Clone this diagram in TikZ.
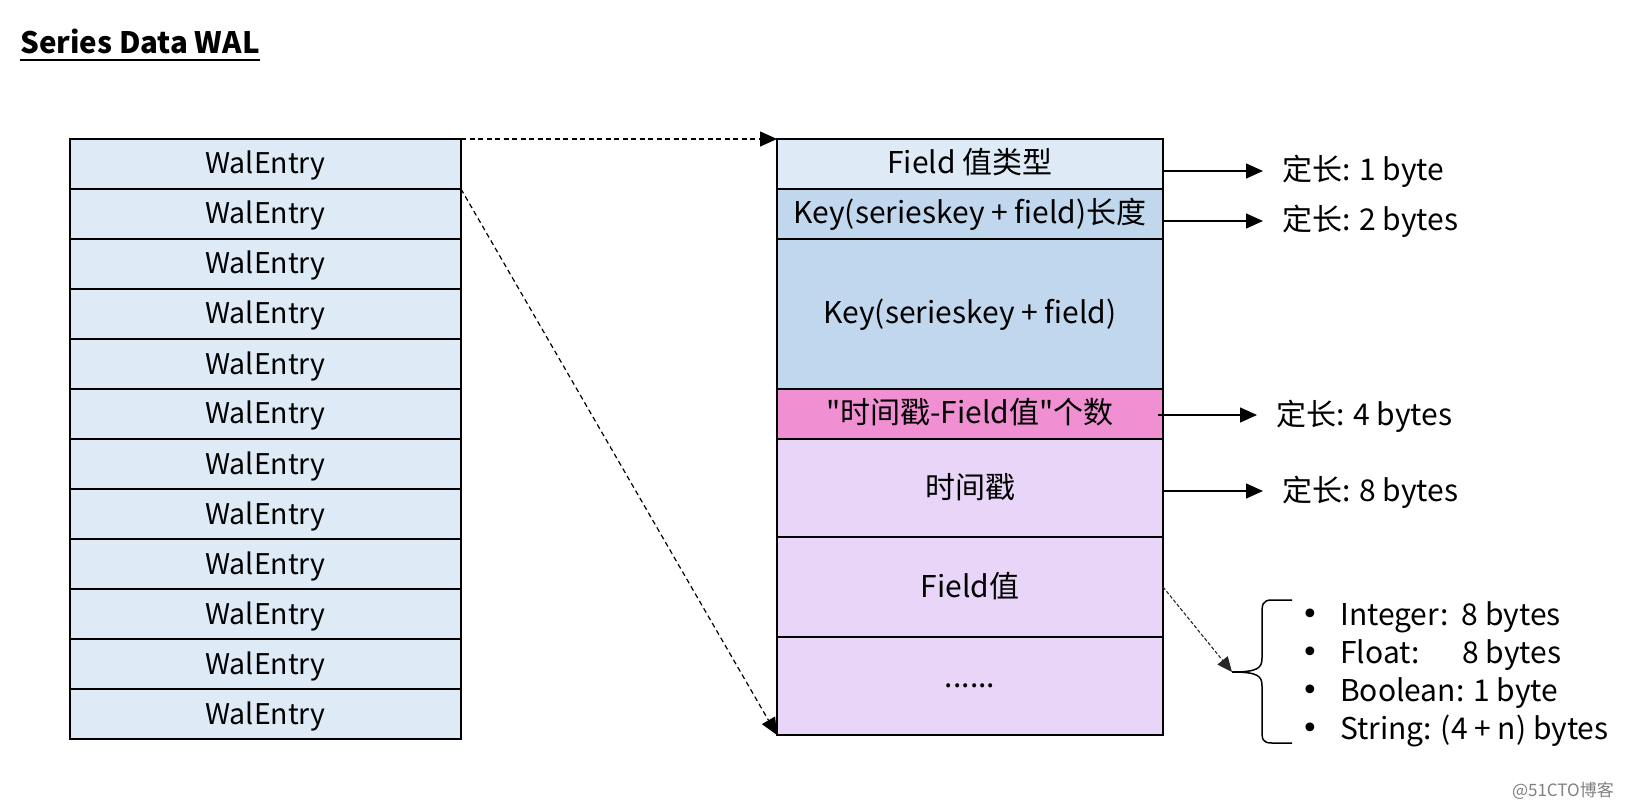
\documentclass[tikz,border=0pt]{standalone}
\usepackage{fontspec}
\setmainfont{Noto Sans CJK SC}[Ligatures=TeXOff]
\newfontfamily\dotfont{DejaVu Sans}
\usetikzlibrary{positioning,arrows.meta}
\definecolor{walblue}{HTML}{DEEBF7}
\definecolor{keyblue}{HTML}{C0D7EE}
\definecolor{cntpink}{HTML}{F08FD2}
\definecolor{vallilac}{HTML}{E8D5F7}
\newcommand{\bul}{\makebox[39pt][l]{\raisebox{1pt}{\dotfont\fontsize{30}{30}\selectfont •}}}

\begin{document}
\begin{tikzpicture}[
    x=1pt, y=-1pt,
    every node/.style={inner sep=0pt, text height=20pt, text depth=0pt, font=\fontsize{30}{34}\selectfont},
    cell/.style={draw, line width=1.5pt, outer sep=0pt, minimum width=386pt, font=\fontsize{30}{34}\selectfont},
    walcell/.style={cell, minimum width=391pt, minimum height=50pt, fill=walblue, font=\fontsize{28.5}{34}\selectfont},
    lenlabel/.style={anchor=west, inner xsep=19pt},
    solidtip/.style={line width=1.2pt, -{Triangle[length=17pt,width=15pt]}},
    dashtip/.style={solidtip, dash pattern=on 5pt off 3.5pt}
]
    \useasboundingbox (0,0) rectangle (1650,810);

    % title
    \node[anchor=base west, font=\fontsize{29.5}{34}\selectfont\bfseries] (title) at (20,54) {Series Data WAL};
    \draw[line width=2.5pt] ([yshift=-6pt]title.base west) -- ([yshift=-6pt]title.base east);

    % left column
    \foreach \i in {1,...,12}
        \node[walcell] (w\i) at (265.5,114+50*\i) {WalEntry};

    % right column
    \node[cell, minimum height=50pt, fill=walblue] (r1) at (970,164) {Field 值类型};
    \node[cell, minimum height=50pt, fill=keyblue, below=0pt of r1] (r2) {Key(serieskey + field)长度};
    \node[cell, minimum height=150pt, fill=keyblue, below=0pt of r2] (r3) {Key(serieskey + field)};
    \node[cell, minimum height=50pt, fill=cntpink, below=0pt of r3] (r4) {"时间戳-Field值"个数};
    \node[cell, minimum height=98pt, fill=vallilac, below=0pt of r4] (r5) {时间戳};
    \node[cell, minimum height=100pt, fill=vallilac, below=0pt of r5] (r6) {Field值};
    \node[cell, minimum height=98pt, fill=vallilac, text height=2pt, below=0pt of r6] (r7) {......};

    % sizes
    \node[lenlabel] (l1) at (1263,171) {定长: 1 byte};
    \node[lenlabel] (l2) at (1263,221) {定长: 2 bytes};
    \node[lenlabel] (l3) at (1257,415) {定长: 4 bytes};
    \node[lenlabel] (l4) at (1263,491) {定长: 8 bytes};
    \draw[solidtip] (r1.east |- l1) -- (l1.west);
    \draw[solidtip] (r2.east |- l2) -- (l2.west);
    \draw[solidtip] ([xshift=-5pt]r4.east |- l3) -- (l3.west);
    \draw[solidtip] (r5.east |- l4) -- (l4.west);

    % entry -> fields
    \draw[dashtip] (w1.north east) -- (r1.north west);
    \draw[dashtip] (w1.south east) -- (r7.south west);

    % field value types
    \coordinate (tip) at (1232,672);
    \draw[line width=1.5pt] (1292,600) -- (1272,600) .. controls (1262,600) and (1262,605) .. (1262,615)
        -- (1262,658) .. controls (1262,668) and (1258,672) .. (tip)
        .. controls (1258,672) and (1262,676) .. (1262,686)
        -- (1262,729) .. controls (1262,739) and (1262,743) .. (1272,743) -- (1292,743);
    \draw[line width=1.1pt, black!85, dash pattern=on 3.5pt off 2pt, -{Triangle[length=15pt,width=13pt]}] (r6.east) -- (tip);
    \node[anchor=north west, align=left, text height=, text depth=, font=\fontsize{30}{38.3}\selectfont] (types) at (1301,601) {%
        \bul Integer:\ \ 8 bytes\\
        \bul\makebox[122pt][l]{Float:}8 bytes\\
        \bul Boolean: 1 byte\\
        \bul String: (4 + n) bytes};

    \node[anchor=east, text=gray, text height=, text depth=, font=\fontsize{17}{20}\selectfont] (mark) at (1614,791) {@51CTO博客};
\end{tikzpicture}
\end{document}
